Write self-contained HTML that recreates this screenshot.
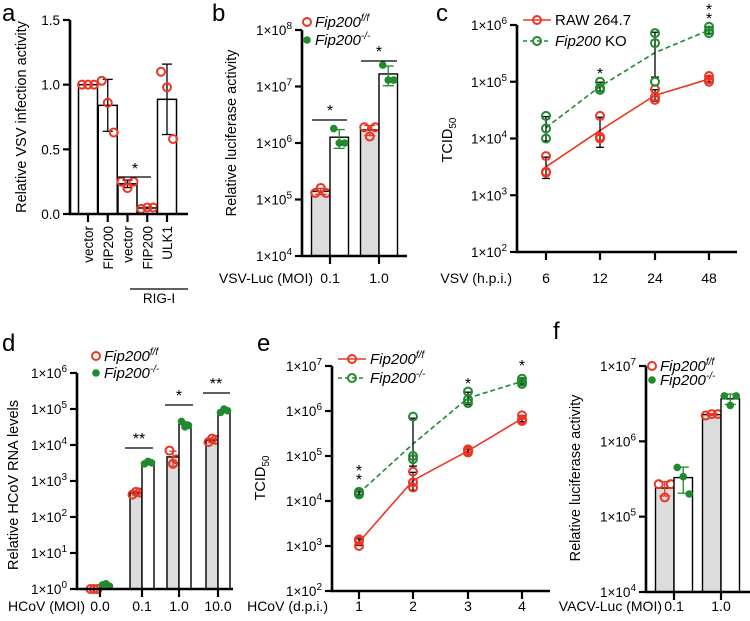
<!DOCTYPE html>
<html><head><meta charset="utf-8"><style>
html,body{margin:0;padding:0;background:#fff}
svg{display:block;font-family:"Liberation Sans",Arial,sans-serif}
</style></head><body>
<svg id="fig" width="750" height="621" viewBox="0 0 750 621" xmlns="http://www.w3.org/2000/svg"></svg>
<script>
// ---------- DATA ----------
const aCats=["vector","FIP200","vector","FIP200","ULK1"];
const aPts=[[1,1,1],[1.03,0.86,0.63],[0.25,0.20,0.25],[0.04,0.05,0.05],[1.1,0.98,0.58]];
const aTicks=[0,0.5,1.0,1.5];
const aTickLabels=["0.0","0.5","1.0","1.5"];

const bCats=["0.1","1.0"];
const bRed=[[1.3e5,1.6e5,1.3e5],[1.9e6,1.3e6,1.9e6]];
const bGreen=[[1.8e6,1.0e6,1.0e6],[2.4e7,1.3e7,1.3e7]];
const bExps=[4,5,6,7,8];

const cCats=["6","12","24","48"];
const cRed=[[4.9e3,2.6e3,2.5e3],[2.5e4,1.07e4,1.0e4],[7.4e4,5.4e4,4.8e4],[1.26e5,1.0e5,1.1e5]];
const cGreen=[[2.5e4,1.5e4,1.0e4],[1.0e5,7.8e4,7.2e4],[7.2e5,4.8e5,1.0e5],[9.3e5,7.2e5,8.0e5]];
const cExps=[2,3,4,5,6];

const dCats=["0.0","0.1","1.0","10.0"];
const dRed=[[1,1,1],[420,500,480],[7000,3000,4000],[12000,15000,14000]];
const dGreen=[[1.3,1.4,1.2],[3000,3500,3200],[45000,32000,35000],[80000,100000,90000]];
const dExps=[0,1,2,3,4,5,6];

const eCats=["1","2","3","4"];
const eRed=[[1.4e3,1.0e3,1.3e3],[4.5e4,2.0e4,2.6e4],[1.4e5,1.2e5,1.3e5],[8.0e5,6.0e5,6.5e5]];
const eGreen=[[1.6e4,1.5e4,1.4e4],[7.5e5,1.0e5,8.5e4],[2.7e6,1.5e6,1.8e6],[5.2e6,4.5e6,4.0e6]];
const eExps=[2,3,4,5,6,7];

const fCats=["0.1","1.0"];
const fRed=[[2.7e5,1.8e5,2.7e5],[2.2e6,2.3e6,2.3e6]];
const fGreen=[[4.5e5,3.4e5,2.0e5],[4.0e6,3.0e6,4.0e6]];
const fExps=[4,5,6,7];

// ---------- HELPERS ----------
const NS="http://www.w3.org/2000/svg";
const svg=document.getElementById('fig');
const RED="#ee3524", GREEN="#1f8a2e";
function el(tag,attrs,parent,text){const e=document.createElementNS(NS,tag);for(const k in attrs)e.setAttribute(k,attrs[k]);if(text!==undefined)e.textContent=text;(parent||svg).appendChild(e);return e;}
function grp(name){const g=el('g',{});return g;}
const mean=a=>a.reduce((s,v)=>s+v,0)/a.length;
const sd=a=>{const m=mean(a);return Math.sqrt(a.reduce((s,v)=>s+(v-m)*(v-m),0)/(a.length-1));};
const gmean=a=>Math.pow(10,mean(a.map(Math.log10)));
function logScale(y0,y1,e0,e1){return v=>y0-(Math.log10(Math.max(v,1e-9))-e0)/(e1-e0)*(y0-y1);}
function line(g,x1,y1,x2,y2,w,c,dash){const l=el('line',{x1,y1,x2,y2,stroke:c||'#000','stroke-width':w||1.3},g);if(dash)l.setAttribute('stroke-dasharray',dash);return l;}
function txt(g,x,y,s,size,anchor,extra){return el('text',Object.assign({x,y,'font-size':size||13,'text-anchor':anchor||'middle',fill:'#000'},extra||{}),g,s);}
function expLabel(g,x,y,e){const t=el('text',{x,y,'font-size':13.5,'text-anchor':'end',fill:'#000'},g);el('tspan',{},t,'1×10');el('tspan',{dy:-6,'font-size':10},t,String(e));return t;}
function openPt(g,x,y,c){const p=el('circle',{cx:x,cy:y,r:4,fill:'none',stroke:c,'stroke-width':2},g);}
function fillPt(g,x,y,c){const p=el('circle',{cx:x,cy:y,r:3.8,fill:c},g);}
function errBar(g,x,yl,yh,w,c){line(g,x,yl,x,yh,1.3,c);line(g,x-w,yl,x+w,yl,1.3,c);line(g,x-w,yh,x+w,yh,1.3,c);}
function ytitle(g,x,y,s,sub){const t=el('text',{x:0,y:0,'font-size':14.5,'text-anchor':'middle',transform:`translate(${x},${y}) rotate(-90)`,fill:'#000'},g);el('tspan',{},t,s);if(sub){el('tspan',{dy:4,'font-size':10},t,sub);}return t;}
function panelLetter(x,y,s){const g=grp('panel-label-'+s);txt(g,x,y,s,24,'start');}
function legendItalic(g,x,y,base,sup){const t=el('text',{x,y,'font-size':15,'font-style':'italic',fill:'#000'},g);el('tspan',{},t,base);el('tspan',{dy:-6,'font-size':10},t,sup);return t;}
function stars(g,x,y,n){for(let i=0;i<n;i++)txt(g,x,y+i*9,'*',16);}

// ---------- PANEL A ----------
panelLetter(2,21,'a');
(function(){
 const g=grp('panel-a');
 const X0=70,Y0=214,Y1=20,xEnd=188;
 const ys=v=>Y0-(v/1.5)*(Y0-Y1);
 const xc=i=>88+i*19.75;
 aCats.forEach((c,i)=>{
  const m=mean(aPts[i]);const s=sd(aPts[i]);
  const b=el('rect',{x:xc(i)-9.5,y:ys(m),width:19,height:Y0-ys(m),fill:'#fff',stroke:'#000','stroke-width':1.5},g);
  
  
  if(s>0.001)errBar(g,xc(i),ys(m+s),ys(Math.max(m-s,0)),5);
  aPts[i].forEach((v,j)=>openPt(g,xc(i)+(j-1)*6,ys(v),RED));
  line(g,xc(i),Y0,xc(i),Y0+8,2.2);
  const t=el('text',{x:0,y:0,'font-size':13.5,'text-anchor':'end',transform:`translate(${xc(i)+5},${Y0+12}) rotate(-90)`,fill:'#000'},g,c);
  
 });
 line(g,X0,Y1,X0,Y0+1,2.6);line(g,X0-1,Y0,xEnd,Y0,2.6);
 aTicks.forEach((v,i)=>{line(g,X0-7,ys(v),X0,ys(v),2.2);txt(g,X0-10,ys(v)+5,aTickLabels[i],13.5,'end');});
 ytitle(g,26,117,'Relative VSV infection activity');
 line(g,130,289,188,289,1.2);txt(g,159,303,'RIG-I',13.5);
 line(g,118,177,151,177,1.2);stars(g,135,174,1);
})();

// ---------- generic log bar panel ----------
function logBars(name,opt){
 const g=grp(name);
 const ys=logScale(opt.y0,opt.y1,opt.exps[0],opt.exps[opt.exps.length-1]);
 opt.cats.forEach((c,i)=>{
  const xt=opt.xt[i];
  [[opt.red,'#dcdcdc',-1,RED,openPt],[opt.green,'#fff',0,GREEN,fillPt]].forEach(([arr,fill,off,col,pt])=>{
   const m=mean(arr[i]);const s=sd(arr[i]);
   const bx=xt+off*opt.bw;
   const b=el('rect',{x:bx,y:ys(m),width:opt.bw,height:opt.y0-ys(m),fill,stroke:'#000','stroke-width':1.4},g);
   
   
   const cx=bx+opt.bw/2;
   errBar(g,cx,ys(m+s),ys(Math.max(m-s,Math.pow(10,opt.exps[0]))),opt.bw*0.3,col);
   arr[i].forEach((v,j)=>pt(g,cx+(j-1)*opt.jit,ys(v),col));
  });
  line(g,xt,opt.y0,xt,opt.y0+8,2.2);
  txt(g,xt,opt.xl,c,14);
 });
 line(g,opt.x0,opt.y1,opt.x0,opt.y0+1,2.6);line(g,opt.x0-1,opt.y0,opt.xEnd,opt.y0,2.6);
 opt.exps.forEach(e=>{const y=ys(Math.pow(10,e));line(g,opt.x0-7,y,opt.x0,y,2.2);expLabel(g,opt.x0-10,y+5,e);});
 return {g,ys};
}
function legendPts(g,x,y1,y2){
 openPt(g,x,y1,RED);legendItalic(g,x+8,y1+5,'Fip200','f/f');
 fillPt(g,x,y2,GREEN);legendItalic(g,x+8,y2+5,'Fip200','-/-');
}

// ---------- PANEL B ----------
panelLetter(212,21,'b');
(function(){
 const r=logBars('panel-b',{cats:bCats,red:bRed,green:bGreen,exps:bExps,x0:302,y0:256,y1:30,xEnd:407,xt:[330,379],bw:18.5,jit:5.5,xl:283});
 const g=r.g;
 ytitle(g,236,133,'Relative luciferase activity');
 txt(g,313,283,'VSV-Luc (MOI)',14,'end');
 legendPts(g,307,22,40);
 line(g,312,120,347,120,1.2);stars(g,330,116,1);
 line(g,361,61,397,61,1.2);stars(g,379,57,1);
})();

// ---------- generic log line panel ----------
function logLines(name,opt){
 const g=grp(name);
 const ys=logScale(opt.y0,opt.y1,opt.exps[0],opt.exps[opt.exps.length-1]);
 [[opt.red,RED,null],[opt.green,GREEN,'5,3']].forEach(([arr,col,dash])=>{
  const pts=arr.map((a,i)=>[opt.xt[i],ys(gmean(a))]);
  const p=el('polyline',{points:pts.map(q=>q.join(',')).join(' '),fill:'none',stroke:col,'stroke-width':1.6},g);
  if(dash)p.setAttribute('stroke-dasharray',dash);
  
  
  arr.forEach((a,i)=>{
   const m=mean(a),s=sd(a);
   errBar(g,opt.xt[i],ys(m+s),ys(Math.max(m-s,Math.min(...a)*0.7)),4,'#000');
   a.forEach(v=>openPt(g,opt.xt[i],ys(v),col));
  });
 });
 opt.cats.forEach((c,i)=>{line(g,opt.xt[i],opt.y0,opt.xt[i],opt.y0+8,2.2);txt(g,opt.xt[i],opt.xl,c,14);});
 line(g,opt.x0,opt.y1,opt.x0,opt.y0+1,2.6);line(g,opt.x0-1,opt.y0,opt.xEnd,opt.y0,2.6);
 opt.exps.forEach(e=>{const y=ys(Math.pow(10,e));line(g,opt.x0-7,y,opt.x0,y,2.2);expLabel(g,opt.x0-10,y+5,e);});
 return {g,ys};
}
function legendLines(g,x,y1,y2,t1,t2){
 line(g,x,y1,x+28,y1,1.6,RED);openPt(g,x+14,y1,RED);
 line(g,x,y2,x+28,y2,1.6,GREEN,'4,3');openPt(g,x+14,y2,GREEN);
 t1(g,x+32,y1+5);t2(g,x+32,y2+5);
}

// ---------- PANEL C ----------
panelLetter(436,21,'c');
(function(){
 const r=logLines('panel-c',{cats:cCats,red:cRed,green:cGreen,exps:cExps,x0:517,y0:252,y1:25,xEnd:737,xt:[546,600,655,709],xl:283});
 const g=r.g;
 ytitle(g,452,140,'TCID','50');
 txt(g,512,283,'VSV (h.p.i.)',14,'end');
 legendLines(g,523,20,41,(g,x,y)=>txt(g,x,y,'RAW 264.7',15,'start'),
  (g,x,y)=>{const t=el('text',{x,y,'font-size':15,fill:'#000'},g);el('tspan',{'font-style':'italic'},t,'Fip200');el('tspan',{},t,' KO');});
 stars(g,600,79,1);stars(g,709,15,2);
})();

// ---------- PANEL D ----------
panelLetter(2,351,'d');
(function(){
 const r=logBars('panel-d',{cats:dCats,red:dRed,green:dGreen,exps:dExps,x0:77,y0:589,y1:373,xEnd:233,xt:[100,142,179,218],bw:12,jit:3.5,xl:611});
 const g=r.g;
 ytitle(g,18,485,'Relative HCoV RNA levels');
 txt(g,85,611,'HCoV (MOI)',14,'end');
 legendPts(g,96,356,373);
 line(g,125,448,153,448,1.2);txt(g,139,444,'**',16);
 line(g,165,405,193,405,1.2);txt(g,179,401,'*',16);
 line(g,203,393,230,393,1.2);txt(g,216,389,'**',16);
})();

// ---------- PANEL E ----------
panelLetter(257,351,'e');
(function(){
 const r=logLines('panel-e',{cats:eCats,red:eRed,green:eGreen,exps:eExps,x0:332,y0:591,y1:366,xEnd:550,xt:[359,413,468,522],xl:611});
 const g=r.g;
 ytitle(g,265,478,'TCID','50');
 txt(g,328,611,'HCoV (d.p.i.)',14,'end');
 legendLines(g,338,359,378,(g,x,y)=>legendItalic(g,x,y,'Fip200','f/f'),(g,x,y)=>legendItalic(g,x,y,'Fip200','-/-'));
 stars(g,359,476,2);stars(g,468,389,1);stars(g,522,371,1);
})();

// ---------- PANEL F ----------
panelLetter(553,339,'f');
(function(){
 const r=logBars('panel-f',{cats:fCats,red:fRed,green:fGreen,exps:fExps,x0:646,y0:592,y1:366,xEnd:750,xt:[674,721],bw:18.5,jit:6,xl:611});
 const g=r.g;
 ytitle(g,580,478,'Relative luciferase activity');
 txt(g,662,611,'VACV-Luc (MOI)',14,'end');
 legendPts(g,652,366,380);
})();
</script>
</body></html>
